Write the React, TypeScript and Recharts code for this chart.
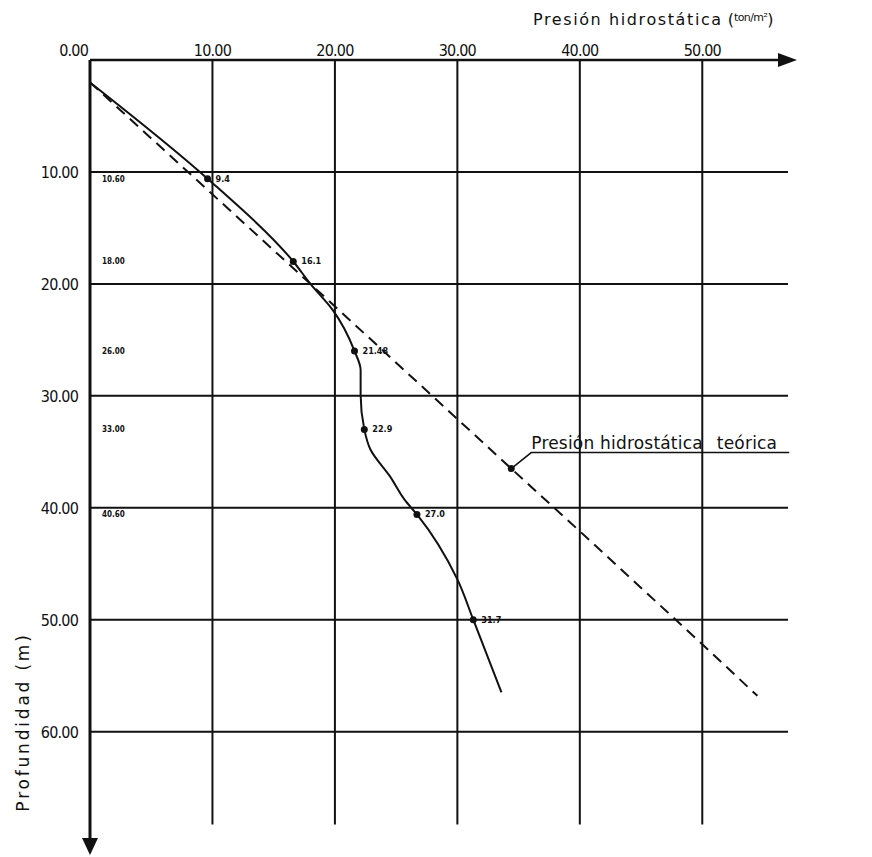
import React from 'react';
import { ComposedChart, Line, Scatter, XAxis, YAxis, ReferenceLine, ReferenceDot } from 'recharts';

// presión hidrostática medida (ton/m²) vs profundidad (m)
const measuredPressure = [0, 9.6, 16.6, 18.0, 19.8, 21.6, 22.1, 22.1, 22.4, 22.9, 24.5, 25.7, 26.7, 30.0, 31.3, 33.6];
const measuredDepth = [2.0, 10.6, 18.0, 20.0, 22.3, 26.0, 27.7, 29.9, 33.0, 34.8, 37.2, 39.3, 40.6, 46.4, 50.0, 56.5];
const measuredLabels = ['', '9.4', '16.1', '', '', '21.48', '', '', '22.9', '', '', '', '27.0', '', '31.7', ''];

// presión hidrostática teórica
const theoryPressure = [0, 18.0, 34.4, 40.0, 50.0, 54.5];
const theoryDepth = [2.0, 20.0, 36.5, 42.1, 52.2, 56.8];

const depthMarks = [10.6, 18.0, 26.0, 33.0, 40.6];
const pressureTicks = [0, 10, 20, 30, 40, 50];
const depthTicks = [10, 20, 30, 40, 50, 60];

const X_MAX = 57;
const Y_MAX = 69.5;
const GRID_BOTTOM = 68.3;

const measured = measuredPressure.map((p, i) => ({ p, d: measuredDepth[i], label: measuredLabels[i] }));
const theory = theoryPressure.map((p, i) => ({ p, d: theoryDepth[i] }));
const depthLabelData = depthMarks.map((d) => ({ p: 0, d, text: d.toFixed(2) }));

const tickFont = "'Liberation Sans Narrow', 'DejaVu Sans Condensed', 'Liberation Sans', sans-serif";
const textFont = "'DejaVu Sans', 'Open Sans', sans-serif";

const XTick = (props: any) => {
  const { x, y, payload } = props;
  const zero = payload.value === 0;
  return (
    <text x={zero ? x - 2 : x} y={y + 4} textAnchor={zero ? 'end' : 'middle'} fontFamily={tickFont}
      fontSize={16} letterSpacing={-0.8} fill="#111">
      {payload.value.toFixed(2)}
    </text>
  );
};

const YTick = (props: any) => {
  const { x, y, payload } = props;
  return (
    <text x={x - 4} y={y + 6} textAnchor="end" fontFamily={tickFont} fontSize={16} letterSpacing={-0.8} fill="#111">
      {payload.value.toFixed(2)}
    </text>
  );
};

const MeasuredDot = (props: any) => {
  const { cx, cy, payload, index } = props;
  if (!payload.label) return <g key={`d-${index}`} />;
  return (
    <g key={`d-${index}`}>
      <circle cx={cx} cy={cy} r={3.5} fill="#111" />
      <text x={cx + 8} y={cy + 3} fontFamily={tickFont} fontSize={9} fontWeight="bold" fill="#111">
        {payload.label}
      </text>
    </g>
  );
};

const DepthLabel = (props: any) => {
  const { cx, cy, payload } = props;
  return (
    <text x={cx + 12} y={cy + 3} fontFamily={tickFont} fontSize={8} fontWeight="bold" fill="#111">
      {payload.text}
    </text>
  );
};

const XArrow = (props: any) => {
  const { cx, cy } = props;
  return <polygon points={`${cx - 10},${cy - 7} ${cx + 9},${cy} ${cx - 10},${cy + 7}`} fill="#111" />;
};

const YArrow = (props: any) => {
  const { cx, cy } = props;
  return <polygon points={`${cx - 8},${cy} ${cx + 8},${cy} ${cx},${cy + 17}`} fill="#111" />;
};

const Annotation = (props: any) => {
  const { cx, cy } = props;
  return (
    <g>
      <circle cx={cx} cy={cy} r={3.5} fill="#111" />
      <polyline points={`${cx},${cy} ${cx + 20},${cy - 16} ${cx + 278},${cy - 16}`} fill="none" stroke="#111" strokeWidth={1.5} />
      <text x={cx + 20} y={cy - 20} fontFamily={textFont} fontSize={17} letterSpacing={0.2} fill="#111">
        <tspan>Presión hidrostática</tspan>
        <tspan dx={14}>teórica</tspan>
      </text>
    </g>
  );
};

const XTitle = (props: any) => {
  const { viewBox } = props;
  return (
    <text x={viewBox.x + 443} y={25} fontFamily={textFont} fontSize={16} letterSpacing={1.6} fill="#111">
      Presión hidrostática
      <tspan dx={5} letterSpacing={0}>(</tspan>
      <tspan fontSize={11} letterSpacing={-0.6} dy={-4}>ton/m²</tspan>
      <tspan dy={4} letterSpacing={0}>)</tspan>
    </text>
  );
};

const YTitle = (props: any) => {
  const { viewBox } = props;
  const x = 24;
  const y = viewBox.y + 662;
  return (
    <text x={x} y={y} transform={`rotate(-90 ${x} ${y})`} textAnchor="middle" dominantBaseline="middle"
      fontFamily={textFont} fontSize={17} letterSpacing={2.8} fill="#111">
      Profundidad (m)
    </text>
  );
};

export default function App() {
  return (
    <div style={{ position: 'absolute', left: 0, top: 0, width: 872, height: 857, background: '#fff' }}>
      <ComposedChart width={872} height={857} margin={{ top: 30, right: 84, bottom: 19, left: 30 }}>
        <XAxis type="number" dataKey="p" orientation="top" domain={[0, X_MAX]} ticks={pressureTicks}
          tick={<XTick />} tickLine={false} height={30} allowDataOverflow
          axisLine={{ stroke: '#111', strokeWidth: 2.5 }} label={{ content: <XTitle /> } as any} />
        <YAxis type="number" dataKey="d" reversed domain={[0, Y_MAX]} ticks={depthTicks}
          tick={<YTick />} tickLine={false} width={60} allowDataOverflow
          axisLine={{ stroke: '#111', strokeWidth: 3 }} label={{ content: <YTitle /> } as any} />

        {depthTicks.map((d) => (
          <ReferenceLine key={`h-${d}`} segment={[{ x: 0, y: d }, { x: X_MAX, y: d }]} stroke="#111" strokeWidth={2} />
        ))}
        {pressureTicks.filter((p) => p > 0).map((p) => (
          <ReferenceLine key={`v-${p}`} segment={[{ x: p, y: 0 }, { x: p, y: GRID_BOTTOM }]} stroke="#111" strokeWidth={2} />
        ))}

        <Line data={theory} dataKey="d" type="linear" stroke="#111" strokeWidth={2} strokeDasharray="11 7"
          dot={false} isAnimationActive={false} />
        <Line data={measured} dataKey="d" type="monotoneY" stroke="#111" strokeWidth={2}
          dot={<MeasuredDot />} isAnimationActive={false} />
        <Scatter data={depthLabelData} dataKey="d" shape={<DepthLabel />} isAnimationActive={false} />

        <ReferenceDot x={34.4} y={36.5} r={3} ifOverflow="visible" shape={<Annotation />} />
        <ReferenceDot x={X_MAX} y={0} r={3} ifOverflow="visible" shape={<XArrow />} />
        <ReferenceDot x={0} y={Y_MAX} r={3} ifOverflow="visible" shape={<YArrow />} />
      </ComposedChart>
    </div>
  );
}
